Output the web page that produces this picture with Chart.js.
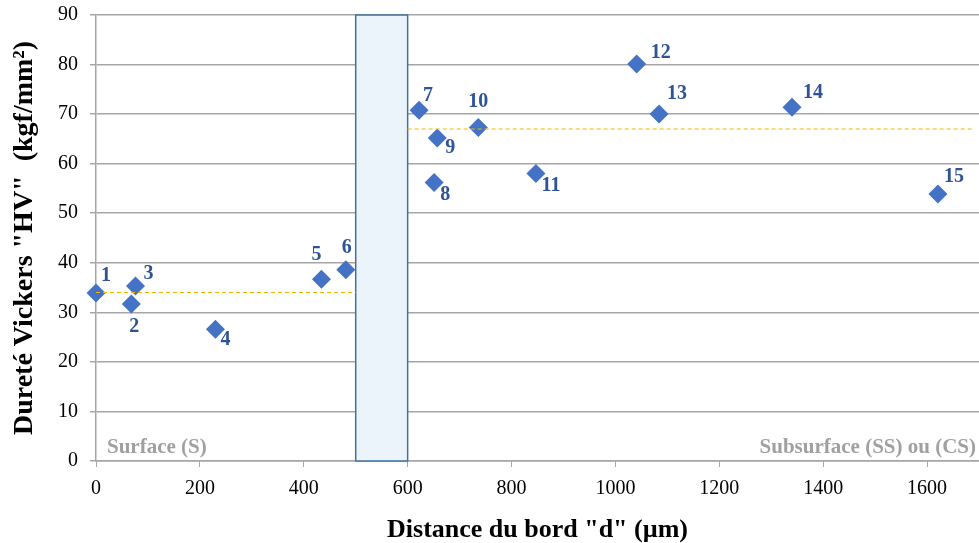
<!DOCTYPE html>
<html>
<head>
<meta charset="utf-8">
<script src="https://cdn.jsdelivr.net/npm/chart.js@4"></script>
<style>
  html, body { margin: 0; padding: 0; background: #fff; }
  #wrap { width: 979px; height: 543px; position: relative; }
</style>
</head>
<body>
<div id="wrap"><canvas id="chart"></canvas></div>
<script>
// données
const pointIds = ['1', '2', '3', '4', '5', '6', '7', '8', '9', '10', '11', '12', '13', '14', '15'];
const distances = [0, 68, 76, 230, 434, 481, 622, 651, 657, 736, 847, 1041, 1084, 1340, 1621];
const durete = [33.9, 31.7, 35.3, 26.6, 36.7, 38.6, 70.8, 56.2, 65.2, 67.3, 58.0, 80.1, 70.0, 71.4, 53.9];

// moyennes (lignes pointillées)
const moyenneSurface = 34;
const moyenneSubsurface = 67;
const surfaceRange = [0, 500];
const subsurfaceRange = [600, 1690];

// zone de transition
const zoneStart = 500;
const zoneEnd = 600;

const xTicks = [0, 200, 400, 600, 800, 1000, 1200, 1400, 1600];
const yTicks = [0, 10, 20, 30, 40, 50, 60, 70, 80, 90];

// décalage des étiquettes (px) par point
const labelOffsets = [[10, -17], [3, 23], [13, -12], [10, 11], [-5, -24], [1, -22], [9, -14],
  [11, 12], [13, 10], [0, -26], [15, 12], [24, -11], [18, -20], [21, -14], [16, -17]];

const serif = "'Liberation Serif', 'Times New Roman', serif";

// dessine la zone bleue derrière les points
const zonePlugin = {
  id: 'zone',
  beforeDatasetsDraw(chart) {
    const { ctx, scales: { x, y } } = chart;
    const x0 = x.getPixelForValue(zoneStart), x1 = x.getPixelForValue(zoneEnd);
    const y0 = y.getPixelForValue(90), y1 = y.getPixelForValue(0);
    ctx.save();
    ctx.fillStyle = '#ebf3fb';
    ctx.fillRect(x0, y0, x1 - x0, y1 - y0);
    ctx.strokeStyle = '#41719c';
    ctx.lineWidth = 1.5;
    ctx.strokeRect(x0, y0, x1 - x0, y1 - y0);
    ctx.restore();
  }
};

// étiquettes des points + textes des zones
const labelPlugin = {
  id: 'labels',
  afterDatasetsDraw(chart) {
    const { ctx, chartArea } = chart;
    const meta = chart.getDatasetMeta(2);
    ctx.save();
    ctx.font = 'bold 20px ' + serif;
    ctx.fillStyle = '#2f5496';
    ctx.textAlign = 'center';
    ctx.textBaseline = 'middle';
    meta.data.forEach(function (pt, i) {
      ctx.fillText(pointIds[i], pt.x + labelOffsets[i][0], pt.y + labelOffsets[i][1]);
    });
    ctx.font = 'bold 21px ' + serif;
    ctx.fillStyle = '#a0a0a0';
    ctx.textAlign = 'left';
    ctx.fillText('Surface (S)', chartArea.left + 11, 448);
    ctx.textAlign = 'right';
    ctx.fillText('Subsurface (SS) ou (CS)', chartArea.right - 3, 448);
    ctx.restore();
  }
};

new Chart(document.getElementById('chart').getContext('2d'), {
  type: 'scatter',
  data: {
    datasets: [
      {
        type: 'line',
        data: surfaceRange.map(v => ({ x: v, y: moyenneSurface })),
        borderColor: '#f7b500',
        borderWidth: 1.2,
        borderDash: [4, 3],
        pointRadius: 0,
        fill: false
      },
      {
        type: 'line',
        data: subsurfaceRange.map(v => ({ x: v, y: moyenneSubsurface })),
        borderColor: '#f7b500',
        borderWidth: 1.2,
        borderDash: [4, 3],
        pointRadius: 0,
        fill: false
      },
      {
        data: distances.map((d, i) => ({ x: d, y: durete[i] })),
        pointStyle: 'rectRot',
        pointRadius: 9.5,
        backgroundColor: '#4472c4',
        borderColor: '#4472c4',
        borderWidth: 0,
        clip: false
      }
    ]
  },
  options: {
    responsive: true,
    maintainAspectRatio: false,
    animation: false,
    layout: { autoPadding: false, padding: { top: 15, right: 0, left: 0, bottom: 0 } },
    plugins: { legend: { display: false }, tooltip: { enabled: false } },
    scales: {
      x: {
        type: 'linear',
        min: 0,
        max: 1700,
        afterBuildTicks: function (axis) { axis.ticks = xTicks.map(v => ({ value: v })); },
        afterFit: function (axis) { axis.height = 82; axis.paddingLeft = 0; axis.paddingRight = 0; },
        grid: { drawOnChartArea: false, color: '#a6a6a6', tickLength: 6 },
        border: { color: '#a6a6a6', width: 1.5 },
        ticks: {
          color: '#000', font: { family: serif, size: 20 }, padding: 10, maxRotation: 0,
          callback: function (v) { return String(v); }
        },
        title: {
          display: true,
          text: 'Distance du bord "d" (µm)',
          color: '#000',
          font: { family: serif, size: 26, weight: 'bold' },
          padding: { top: 14, bottom: -3 }
        }
      },
      y: {
        min: 0,
        max: 90,
        afterBuildTicks: function (axis) { axis.ticks = yTicks.map(v => ({ value: v })); },
        afterFit: function (axis) { axis.width = 96; axis.paddingTop = 0; axis.paddingBottom = 0; },
        grid: { color: '#a6a6a6', lineWidth: 1.5, tickLength: 6 },
        border: { color: '#a6a6a6', width: 1.5 },
        ticks: { color: '#000', font: { family: serif, size: 20 }, padding: 12 },
        title: {
          display: true,
          text: 'Dureté Vickers "HV"  (kgf/mm²)',
          color: '#000',
          font: { family: serif, size: 28, weight: 'bold' },
          padding: { top: 8, bottom: 4 }
        }
      }
    }
  },
  plugins: [zonePlugin, labelPlugin]
});
</script>
</body>
</html>
